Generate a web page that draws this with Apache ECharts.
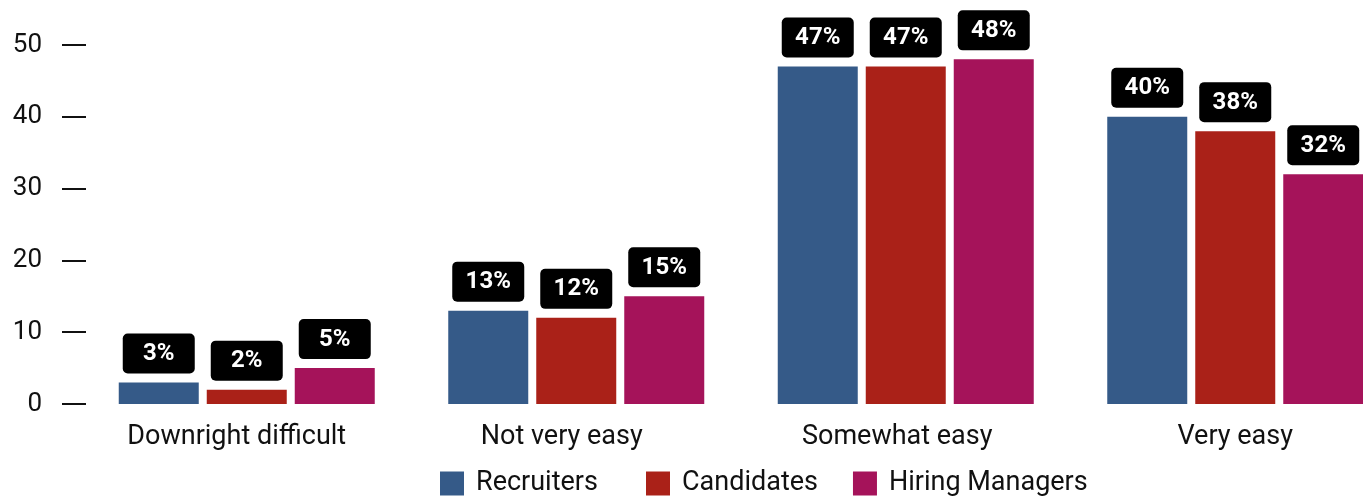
<!DOCTYPE html>
<html>
<head>
<meta charset="utf-8">
<script src="https://cdn.jsdelivr.net/npm/echarts@6/dist/echarts.min.js"></script>
<style>
  html, body { margin: 0; padding: 0; background: #fff; overflow: hidden; }
  #chart { width: 1400px; height: 497px; }
</style>
</head>
<body>
<div id="chart"></div>
<script>
var categories = ['Downright difficult', 'Not very easy', 'Somewhat easy', 'Very easy'];
var seriesNames = ['Recruiters', 'Candidates', 'Hiring Managers'];
var recruiters = [3, 13, 47, 40];
var candidates = [2, 12, 47, 38];
var hiringManagers = [5, 15, 48, 32];
var colors = ['#355a88', '#aa2118', '#a5135a'];

// the plot runs past the right edge of the window, so the chart box is wider than the page
var myChart = echarts.init(document.getElementById('chart'));

function makeSeries(name, data, color) {
    return {
        name: name,
        type: 'bar',
        data: data,
        barWidth: 80,
        barGap: '10%',
        itemStyle: { color: color },
        label: {
            show: true,
            position: 'top',
            distance: 9,
            formatter: '{c}%',
            color: '#fff',
            fontFamily: 'Roboto',
            fontWeight: 'bold',
            fontSize: 24,
            lineHeight: 27,
            backgroundColor: '#000',
            borderRadius: 5,
            padding: [7, 0, 6, 0],
            width: 72,
            align: 'center'
        }
    };
}

var legendBase = {
    top: 470,
    padding: 0,
    icon: 'rect',
    itemWidth: 24,
    itemHeight: 24,
    textStyle: { fontSize: 27, color: '#111', padding: [0, 0, 0, 7] }
};

// category labels in the original sit a little left of their bar groups
var catStyle = function (pad) {
    return { fontSize: 27, color: '#111', padding: [0, pad, 0, 0] };
};

var option = {
    animation: false,
    textStyle: { fontFamily: 'Roboto' },
    grid: { left: 82, right: 0, top: 45, bottom: 93 },
    legend: [
        Object.assign({}, legendBase, { data: [seriesNames[0]], left: 440 }),
        Object.assign({}, legendBase, { data: [seriesNames[1], seriesNames[2]], left: 646, itemGap: 35 })
    ],
    xAxis: {
        type: 'category',
        data: categories,
        axisLine: { show: false },
        axisTick: { show: false },
        axisLabel: {
            interval: 0,
            hideOverlap: false,
            fontSize: 27,
            color: '#111',
            margin: 20,
            formatter: function (value, idx) {
                return '{c' + idx + '|' + value + '}';
            },
            rich: { c0: catStyle(20), c1: catStyle(29), c2: catStyle(17), c3: catStyle(0) }
        }
    },
    yAxis: {
        type: 'value',
        min: 0,
        max: 50,
        interval: 10,
        offset: -4,
        splitLine: { show: false },
        axisLine: { show: false },
        axisTick: { show: true, length: 24, lineStyle: { color: '#111', width: 2 } },
        axisLabel: { fontSize: 26, color: '#111', margin: 44 }
    },
    series: [
        makeSeries(seriesNames[0], recruiters, colors[0]),
        makeSeries(seriesNames[1], candidates, colors[1]),
        makeSeries(seriesNames[2], hiringManagers, colors[2])
    ]
};
myChart.setOption(option);
</script>
</body>
</html>
